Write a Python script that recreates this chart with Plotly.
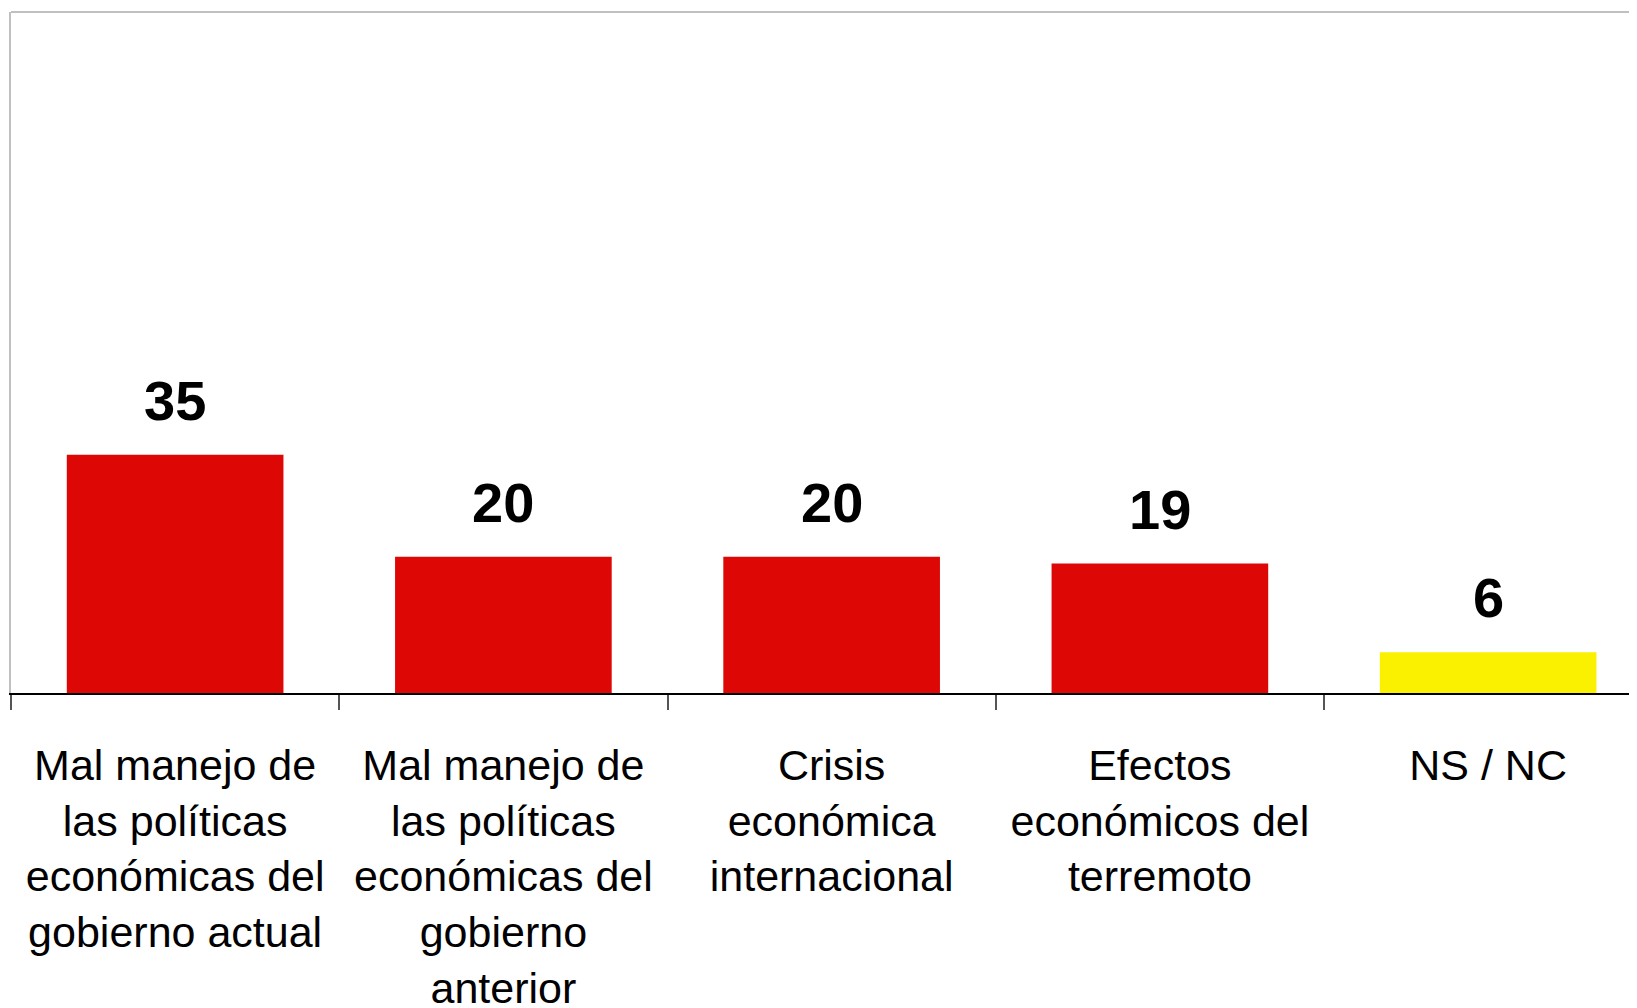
import plotly.graph_objects as go

categories = [
    "Mal manejo de<br>las políticas<br>económicas del<br>gobierno actual",
    "Mal manejo de<br>las políticas<br>económicas del<br>gobierno<br>anterior",
    "Crisis<br>económica<br>internacional",
    "Efectos<br>económicos del<br>terremoto",
    "NS / NC",
]
values = [35, 20, 20, 19, 6]
bar_colors = ["#DD0806", "#DD0806", "#DD0806", "#DD0806", "#F9F100"]

fig = go.Figure()
fig.add_trace(go.Bar(
    x=categories, y=values, width=0.66,
    marker=dict(color=bar_colors, line=dict(width=0)),
    hoverinfo="skip",
))

for c, v in zip(categories, values):
    fig.add_annotation(
        x=c, y=v, text=f"<b>{v}</b>", showarrow=False,
        yanchor="bottom", yshift=21,
        font=dict(family="Liberation Sans, Arial", size=56, color="black"),
    )

fig.add_shape(type="line", xref="paper", yref="paper", x0=0, x1=1, y0=1, y1=1,
              line=dict(color="#c0c0c0", width=2))

fig.update_layout(
    width=1629, height=1000,
    margin=dict(l=3, r=0, t=4, b=315, autoexpand=False),
    paper_bgcolor="white", plot_bgcolor="white",
    showlegend=False,
    font=dict(family="Liberation Sans, Arial", color="black"),
    xaxis=dict(
        type="category", range=[-0.5, 4.4535], automargin=False,
        showline=True, linecolor="black", linewidth=2,
        ticks="outside", tickson="boundaries", ticklen=15, tickwidth=2, tickcolor="#555555",
        ticklabelstandoff=33,
        tickfont=dict(size=43, family="Liberation Sans, Arial", color="black"),
        showgrid=False, zeroline=False,
    ),
    yaxis=dict(
        range=[0, 100], showticklabels=False, ticks="", automargin=False,
        showline=True, linecolor="#c0c0c0", linewidth=2,
        showgrid=False, zeroline=False,
    ),
)

fig.write_html("out.html")
